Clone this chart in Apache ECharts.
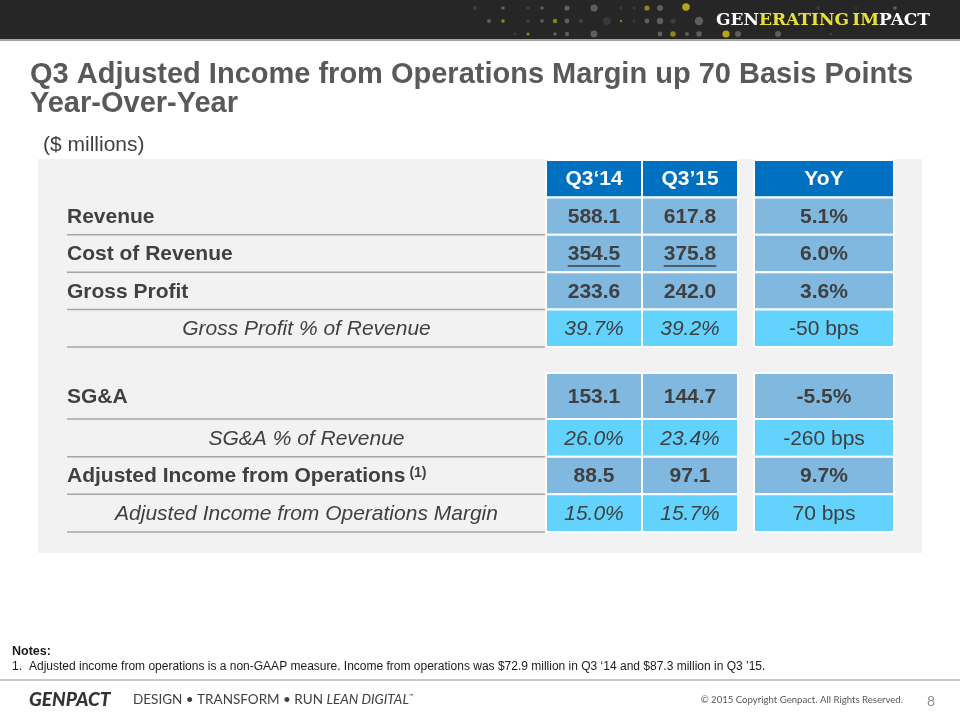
<!DOCTYPE html>
<html><head><meta charset="utf-8">
<script src="https://cdn.jsdelivr.net/npm/echarts@6/dist/echarts.min.js"></script>
<style>html,body{margin:0;padding:0;background:#fff}#main{width:960px;height:720px}</style>
</head><body><div id="main"></div>
<script>
// ---- data ----
const headers = ['Q3‘14', 'Q3’15', 'YoY'];
const rowLabels = ['Revenue', 'Cost of Revenue', 'Gross Profit', 'Gross Profit % of Revenue',
  'SG&A', 'SG&A % of Revenue', 'Adjusted Income from Operations', 'Adjusted Income from Operations Margin'];
const q3_14 = ['588.1', '354.5', '233.6', '39.7%', '153.1', '26.0%', '88.5', '15.0%'];
const q3_15 = ['617.8', '375.8', '242.0', '39.2%', '144.7', '23.4%', '97.1', '15.7%'];
const yoy = ['5.1%', '6.0%', '3.6%', '-50 bps', '-5.5%', '-260 bps', '9.7%', '70 bps'];
const ratioRows = ['Gross Profit % of Revenue', 'SG&A % of Revenue', 'Adjusted Income from Operations Margin'];
const subtractedRows = ['Cost of Revenue'];
const footnotes = { 'Adjusted Income from Operations': '(1)' };
const titleLines = ['Q3 Adjusted Income from Operations Margin up 70 Basis Points', 'Year-Over-Year'];
const unitText = '($ millions)';
const notesHead = 'Notes:';
const noteNum = '1.';
const noteText = 'Adjusted income from operations is a non-GAAP measure. Income from operations was $72.9 million in Q3 ‘14 and $87.3 million in Q3 ’15.';

// ---- layout ----
const valueCols = [q3_14, q3_15, yoy];
const sections = [
  { rows: [-1, 0, 1, 2, 3], top: 160, height: 187 },
  { rows: [4], top: 373, height: 46 },
  { rows: [5, 6, 7], top: 419, height: 113 }
];
const groups = [
  { left: 67, width: 479, cols: [null] },
  { left: 546, width: 192, cols: [0, 1] },
  { left: 754, width: 140, cols: [2] }
];
const FONT = '"Liberation Sans", Arial, sans-serif';
const TXT = '#404040';
const FILL = { header: '#0070C0', value: '#80B8E0', ratio: '#63D3FD', ratioYoy: '#63D3FD' };
const measureCtx = document.createElement('canvas').getContext('2d');
function textWidth(font, t) { measureCtx.font = font; return measureCtx.measureText(t).width; }

function renderCell(cell, api) {
  const pt = api.coord([api.value(0), api.value(1)]);
  const sz = api.size([1, 1]);
  const x0 = pt[0] - sz[0] / 2, y0 = pt[1] - sz[1] / 2, w = sz[0], h = sz[1];
  const cy = pt[1] + 1;
  const children = [];
  if (cell.kind === 'label' || cell.kind === 'labelRatio') {
    children.push({ type: 'line', shape: { x1: x0, y1: y0 + h, x2: x0 + w, y2: y0 + h },
      style: { stroke: '#a6a6a6', lineWidth: 1.5 } });
    if (cell.kind === 'label') {
      const f = 'bold 21px ' + FONT;
      children.push({ type: 'text', style: { text: cell.text, x: x0, y: cy, font: f, fill: TXT, align: 'left', verticalAlign: 'middle' } });
      if (footnotes[cell.text]) {
        children.push({ type: 'text', style: { text: footnotes[cell.text], x: x0 + textWidth(f, cell.text) + 4, y: cy - 3,
          font: 'bold 14px ' + FONT, fill: TXT, align: 'left', verticalAlign: 'middle' } });
      }
    } else {
      children.push({ type: 'text', style: { text: cell.text, x: pt[0], y: cy, font: 'italic 21px ' + FONT, fill: TXT, align: 'center', verticalAlign: 'middle' } });
    }
  } else {
    children.push({ type: 'rect', shape: { x: x0, y: y0, width: w, height: h },
      style: { fill: FILL[cell.kind], stroke: '#ffffff', lineWidth: 2 } });
    let font, color = TXT;
    if (cell.kind === 'header') { font = 'bold 21px ' + FONT; color = '#ffffff'; }
    else if (cell.kind === 'value') font = 'bold 21px ' + FONT;
    else if (cell.kind === 'ratio') font = 'italic 21px ' + FONT;
    else font = '21px ' + FONT;
    children.push({ type: 'text', style: { text: cell.text, x: pt[0], y: cy, font: font, fill: color, align: 'center', verticalAlign: 'middle' } });
    if (cell.underline) {
      const tw = textWidth(font, cell.text);
      children.push({ type: 'line', shape: { x1: pt[0] - tw / 2, y1: pt[1] + 12.5, x2: pt[0] + tw / 2, y2: pt[1] + 12.5 },
        style: { stroke: TXT, lineWidth: 1.5 } });
    }
  }
  return { type: 'group', children: children };
}

const grid = [], xAxis = [], yAxis = [], series = [];
sections.forEach(sec => groups.forEach(grp => {
  const idx = grid.length;
  grid.push({ left: grp.left, top: sec.top, width: grp.width, height: sec.height });
  xAxis.push({ type: 'category', gridIndex: idx, show: false,
    data: grp.cols.map(c => c === null ? 'Line item' : headers[c]) });
  yAxis.push({ type: 'category', gridIndex: idx, show: false, inverse: true,
    data: sec.rows.map(r => r < 0 ? 'Header' : rowLabels[r]) });
  const cells = [];
  sec.rows.forEach((r, ri) => grp.cols.forEach((c, ci) => {
    let text, kind, underline = false;
    if (c === null) {
      if (r < 0) return;
      text = rowLabels[r];
      kind = ratioRows.includes(text) ? 'labelRatio' : 'label';
    } else if (r < 0) {
      text = headers[c]; kind = 'header';
    } else {
      text = valueCols[c][r];
      kind = ratioRows.includes(rowLabels[r]) ? (c === 2 ? 'ratioYoy' : 'ratio') : 'value';
      underline = c !== 2 && subtractedRows.includes(rowLabels[r]);
    }
    cells.push({ value: [ci, ri], text, kind, underline });
  }));
  series.push({ type: 'custom', coordinateSystem: 'cartesian2d', xAxisIndex: idx, yAxisIndex: idx,
    data: cells.map(c => c.value), silent: true, animation: false, clip: false,
    renderItem: (params, api) => renderCell(cells[params.dataIndex], api) });
}));

// decorative header dots
const G = '#5e5e5e', D = '#3e3e3e', Y = '#8c8616', YB = '#b3a60f';
const dots = [
  [475,8,2,D],[503,8,1.8,G],[528,8,1.8,D],[542,8,1.8,G],[567,8,2.6,G],[594,8,3.6,G],[621,8,1.2,D],[634,8,1.5,D],[647,8,2.6,Y],[660,8,3,G],[686,7,3.8,YB],[818,8,1.8,D],[856,8,1.8,'#333'],[895,8,1.8,G],
  [489,21,2,G],[503,21,1.8,Y],[528,21,1.8,D],[542,21,1.8,G],[555,21,2.2,Y],[567,21,2.4,G],[581,21,2.2,D],[607,21,4,'#383838'],[621,21,1.2,Y],[634,21,1.5,D],[647,21,2.4,G],[660,21,3.2,G],[673,21,2.6,D],[699,21,4.2,G],
  [515,34,1.4,D],[528,34,1.6,Y],[555,34,1.8,G],[567,34,2.2,G],[594,34,3.4,G],[660,34,2.4,G],[673,34,2.8,Y],[687,34,2,G],[699,34,2.8,G],[726,34,3.6,YB],[738,34,3,G],[778,34,3,G],[831,34,1.4,D]
];
const graphics = [
  { type: 'rect', shape: { x: 0, y: 0, width: 960, height: 39 }, style: { fill: '#262626' }, z: -10 },
  { type: 'rect', shape: { x: 0, y: 39, width: 960, height: 2 }, style: { fill: '#a6a6a6' }, z: -10 },
  { type: 'rect', shape: { x: 38, y: 159, width: 884, height: 394 }, style: { fill: '#f2f2f2' }, z: -10 },
  { type: 'rect', shape: { x: 0, y: 679, width: 960, height: 2 }, style: { fill: '#c8c8c8' }, z: -10 }
];
dots.forEach(d => graphics.push({ type: 'circle', shape: { cx: d[0], cy: d[1], r: d[2] }, style: { fill: d[3] }, z: -5 }));
graphics.push(
  { type: 'text', x: 930, y: 21, z: 1, style: { text: '{w|GEN}{y|ERATING} {y|IM}{w|PACT}', align: 'right', verticalAlign: 'middle',
    rich: { w: { fill: '#ffffff', font: 'bold 17px "DejaVu Serif", serif' }, y: { fill: '#e8e03a', font: 'bold 17px "DejaVu Serif", serif' } } } },
  { type: 'text', x: 30, y: 75, z: 1, style: { text: titleLines[0], font: 'bold 29px ' + FONT, fill: '#595959', align: 'left', verticalAlign: 'middle' } },
  { type: 'text', x: 30, y: 103.5, z: 1, style: { text: titleLines[1], font: 'bold 29px ' + FONT, fill: '#595959', align: 'left', verticalAlign: 'middle' } },
  { type: 'text', x: 43, y: 145, z: 1, style: { text: unitText, font: '21px ' + FONT, fill: '#404040', align: 'left', verticalAlign: 'middle' } },
  { type: 'text', x: 12, y: 652, z: 1, style: { text: notesHead, font: 'bold 12.5px ' + FONT, fill: '#1a1a1a', align: 'left', verticalAlign: 'middle' } },
  { type: 'text', x: 12, y: 667, z: 1, style: { text: noteNum, font: '12px ' + FONT, fill: '#1a1a1a', align: 'left', verticalAlign: 'middle' } },
  { type: 'text', x: 29, y: 667, z: 1, style: { text: noteText, font: '12px ' + FONT, fill: '#1a1a1a', align: 'left', verticalAlign: 'middle' } },
  { type: 'text', x: 29, y: 700, z: 1, style: { text: 'GENPACT', font: 'italic 900 19px Lato, sans-serif', fill: '#333333', align: 'left', verticalAlign: 'middle' } },
  { type: 'text', x: 133, y: 700, z: 1, style: { text: '{n|DESIGN • TRANSFORM • RUN }{i|LEAN DIGITAL}{s|™}', align: 'left', verticalAlign: 'middle',
    rich: { n: { font: '13.5px Lato, sans-serif', fill: '#404040' }, i: { font: 'italic 13.5px Lato, sans-serif', fill: '#404040' }, s: { font: '6px Lato, sans-serif', fill: '#404040', verticalAlign: 'top' } } } },
  { type: 'text', x: 903, y: 700, z: 1, style: { text: '© 2015 Copyright Genpact. All Rights Reserved.', font: '9.6px Lato, sans-serif', fill: '#595959', align: 'right', verticalAlign: 'middle' } },
  { type: 'text', x: 931, y: 701, z: 1, style: { text: '8', font: '14px Lato, sans-serif', fill: '#8c8c8c', align: 'center', verticalAlign: 'middle' } }
);

const chart = echarts.init(document.getElementById('main'), null, { renderer: 'canvas' });
chart.setOption({
  backgroundColor: '#ffffff',
  animation: false,
  grid, xAxis, yAxis, series,
  graphic: { elements: graphics }
});
</script>
</body></html>
